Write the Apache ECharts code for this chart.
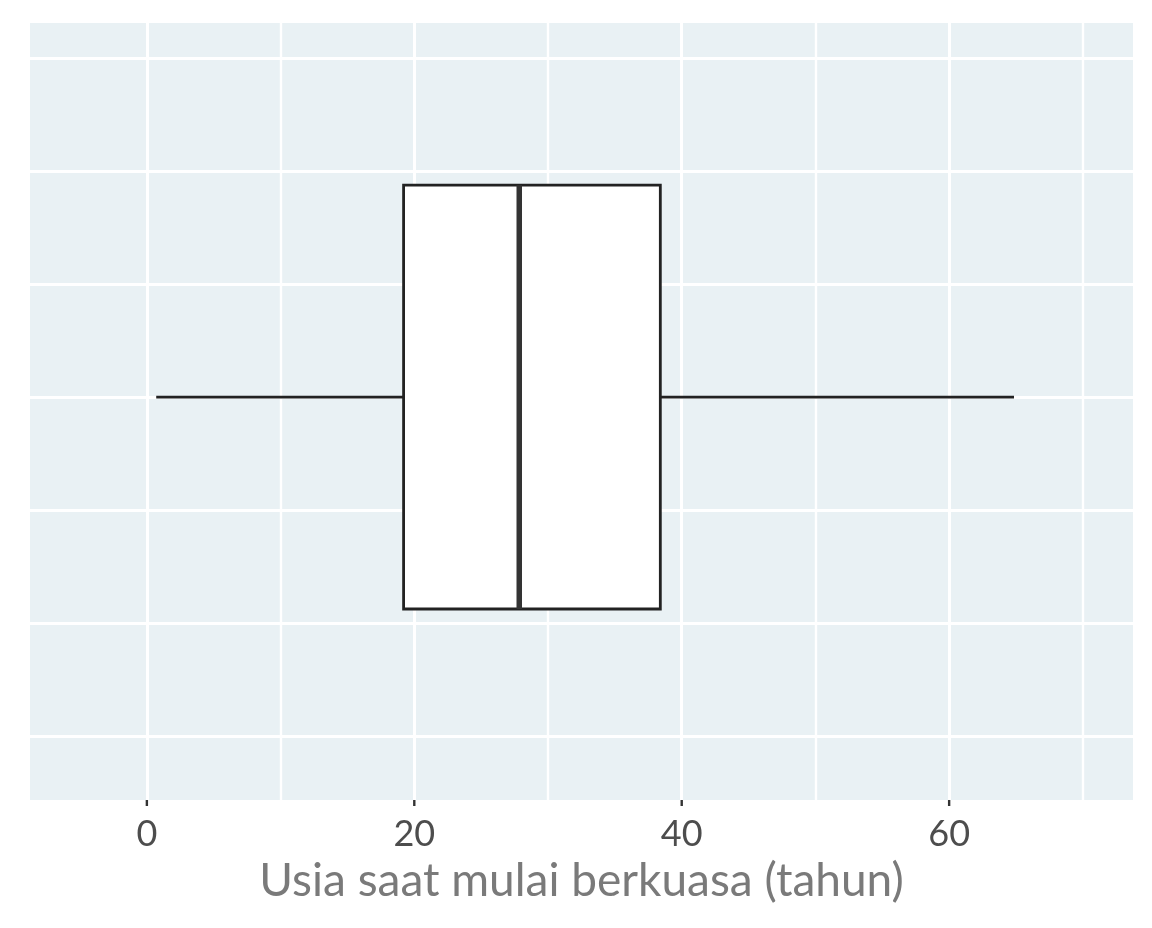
<!DOCTYPE html>
<html>
<head>
<meta charset="utf-8">
<script src="https://cdn.jsdelivr.net/npm/echarts@6/dist/echarts.min.js"></script>
<style>
html,body{margin:0;padding:0;background:#fff;}
#chart{width:1152px;height:928px;}
</style>
</head>
<body>
<div id="chart"></div>
<script>
// Five-number summary (min, Q1, median, Q3, max) of age at start of reign
var boxStats = [0.7, 19.2, 27.85, 38.4, 64.85];
var xTickLabels = [0, 20, 40, 60];
var xGridValues = [0, 10, 20, 30, 40, 50, 60, 70];
var yGridValues = [-0.6, -0.4, -0.2, 0, 0.2, 0.4, 0.6];
var axisTitle = 'Usia saat mulai berkuasa (tahun)';
var boxHalfWidth = 0.375;
var yMin = -0.713, yMax = 0.662;

var chart = echarts.init(document.getElementById('chart'), null, {renderer: 'canvas'});

var gridLineData = [];
xGridValues.forEach(function (v) {
  gridLineData.push({xAxis: v, lineStyle: {width: (v % 20 === 0) ? 3 : 2.4}});
});
yGridValues.forEach(function (v) {
  gridLineData.push({yAxis: v, lineStyle: {width: 3}});
});

chart.setOption({
  animation: false,
  grid: {
    left: 30, right: 19, top: 23, bottom: 128,
    show: true, backgroundColor: '#E9F1F4', borderWidth: 0
  },
  xAxis: {
    type: 'value',
    min: -8.74, max: 73.75,
    name: axisTitle,
    nameLocation: 'middle',
    nameGap: 58,
    nameTextStyle: {fontFamily: 'Lato', fontSize: 46, color: '#7a7a7a'},
    axisLine: {show: false},
    splitLine: {show: false},
    axisTick: {show: false},
    axisLabel: {show: true, customValues: xTickLabels, margin: 16, fontFamily: 'Lato', fontSize: 36, color: '#4d4d4d'}
  },
  yAxis: {
    type: 'value',
    min: yMin, max: yMax,
    axisLine: {show: false},
    axisTick: {show: false},
    axisLabel: {show: false},
    splitLine: {show: false}
  },
  series: [
    {
      type: 'line',
      data: [],
      z: 1,
      silent: true,
      markLine: {
        z: 1,
        silent: true,
        symbol: ['none', 'none'],
        label: {show: false},
        lineStyle: {color: '#ffffff', type: 'solid', width: 3},
        emphasis: {disabled: true},
        data: gridLineData
      }
    },
    {
      // axis tick marks below the panel
      type: 'custom',
      z: 10,
      silent: true,
      clip: false,
      data: xTickLabels.map(function (v) { return [v, yMin]; }),
      renderItem: function (params, api) {
        var p = api.coord([api.value(0), api.value(1)]);
        return {type: 'line', shape: {x1: p[0], y1: p[1], x2: p[0], y2: p[1] + 6}, style: {stroke: '#333333', lineWidth: 2.4}};
      }
    },
    {
      type: 'custom',
      z: 10,
      silent: true,
      data: [[0].concat(boxStats)],
      encode: {x: [1, 2, 3, 4, 5], y: 0},
      renderItem: function (params, api) {
        var y = api.value(0);
        var mn = api.value(1), q1 = api.value(2), md = api.value(3), q3 = api.value(4), mx = api.value(5);
        var pMin = api.coord([mn, y]);
        var pQ1 = api.coord([q1, y]);
        var pQ3 = api.coord([q3, y]);
        var pMax = api.coord([mx, y]);
        var top = api.coord([q1, y + boxHalfWidth])[1];
        var bot = api.coord([q1, y - boxHalfWidth])[1];
        var pMd = api.coord([md, y]);
        var stroke = '#222222';
        return {
          type: 'group',
          children: [
            {type: 'line', shape: {x1: pMin[0], y1: pMin[1], x2: pQ1[0], y2: pQ1[1]}, style: {stroke: stroke, lineWidth: 2.6}},
            {type: 'line', shape: {x1: pQ3[0], y1: pQ3[1], x2: pMax[0], y2: pMax[1]}, style: {stroke: stroke, lineWidth: 2.6}},
            {type: 'rect', shape: {x: pQ1[0], y: top, width: pQ3[0] - pQ1[0], height: bot - top}, style: {fill: '#ffffff', stroke: stroke, lineWidth: 2.8}},
            {type: 'line', shape: {x1: pMd[0], y1: top, x2: pMd[0], y2: bot}, style: {stroke: '#333333', lineWidth: 5.5}}
          ]
        };
      }
    }
  ]
});
</script>
</body>
</html>
